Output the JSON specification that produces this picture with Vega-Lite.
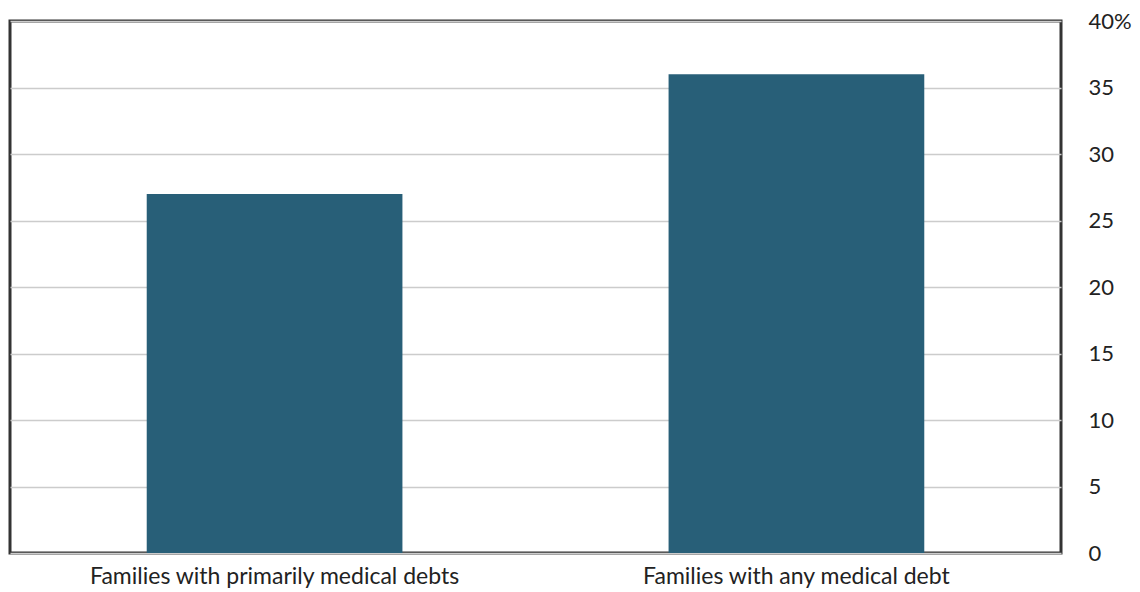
{
  "$schema": "https://vega.github.io/schema/vega-lite/v6.json",
  "autosize": {"type": "none"},
  "padding": {"left": 10, "top": 21, "right": 79, "bottom": 38},
  "width": 1051,
  "height": 532,
  "background": "white",
  "config": {
    "view": {"stroke": "#333333", "strokeWidth": 3},
    "font": "Lato"
  },
  "data": {
    "values": [
      {"category": "Families with primarily medical debts", "percent": 27},
      {"category": "Families with any medical debt", "percent": 36}
    ]
  },
  "mark": {"type": "bar", "color": "#285f78"},
  "encoding": {
    "x": {
      "field": "category",
      "type": "nominal",
      "sort": null,
      "title": null,
      "scale": {"paddingInner": 0.51, "paddingOuter": 0.262},
      "axis": {
        "labelAngle": 0,
        "domain": false,
        "ticks": false,
        "labelFontSize": 23,
        "labelLimit": 0,
        "labelColor": "#222222",
        "labelPadding": 12,
        "labelFont": "Lato"
      }
    },
    "y": {
      "field": "percent",
      "type": "quantitative",
      "title": null,
      "scale": {"domain": [0, 40]},
      "axis": {
        "orient": "right",
        "values": [0, 5, 10, 15, 20, 25, 30, 35, 40],
        "labelExpr": "datum.value == 40 ? '40%' : datum.label",
        "domain": false,
        "ticks": false,
        "grid": true,
        "gridColor": "#cccccc",
        "gridWidth": 1.5,
        "labelFontSize": 22,
        "labelColor": "#222222",
        "labelPadding": 27,
        "labelFont": "Lato"
      }
    }
  }
}
